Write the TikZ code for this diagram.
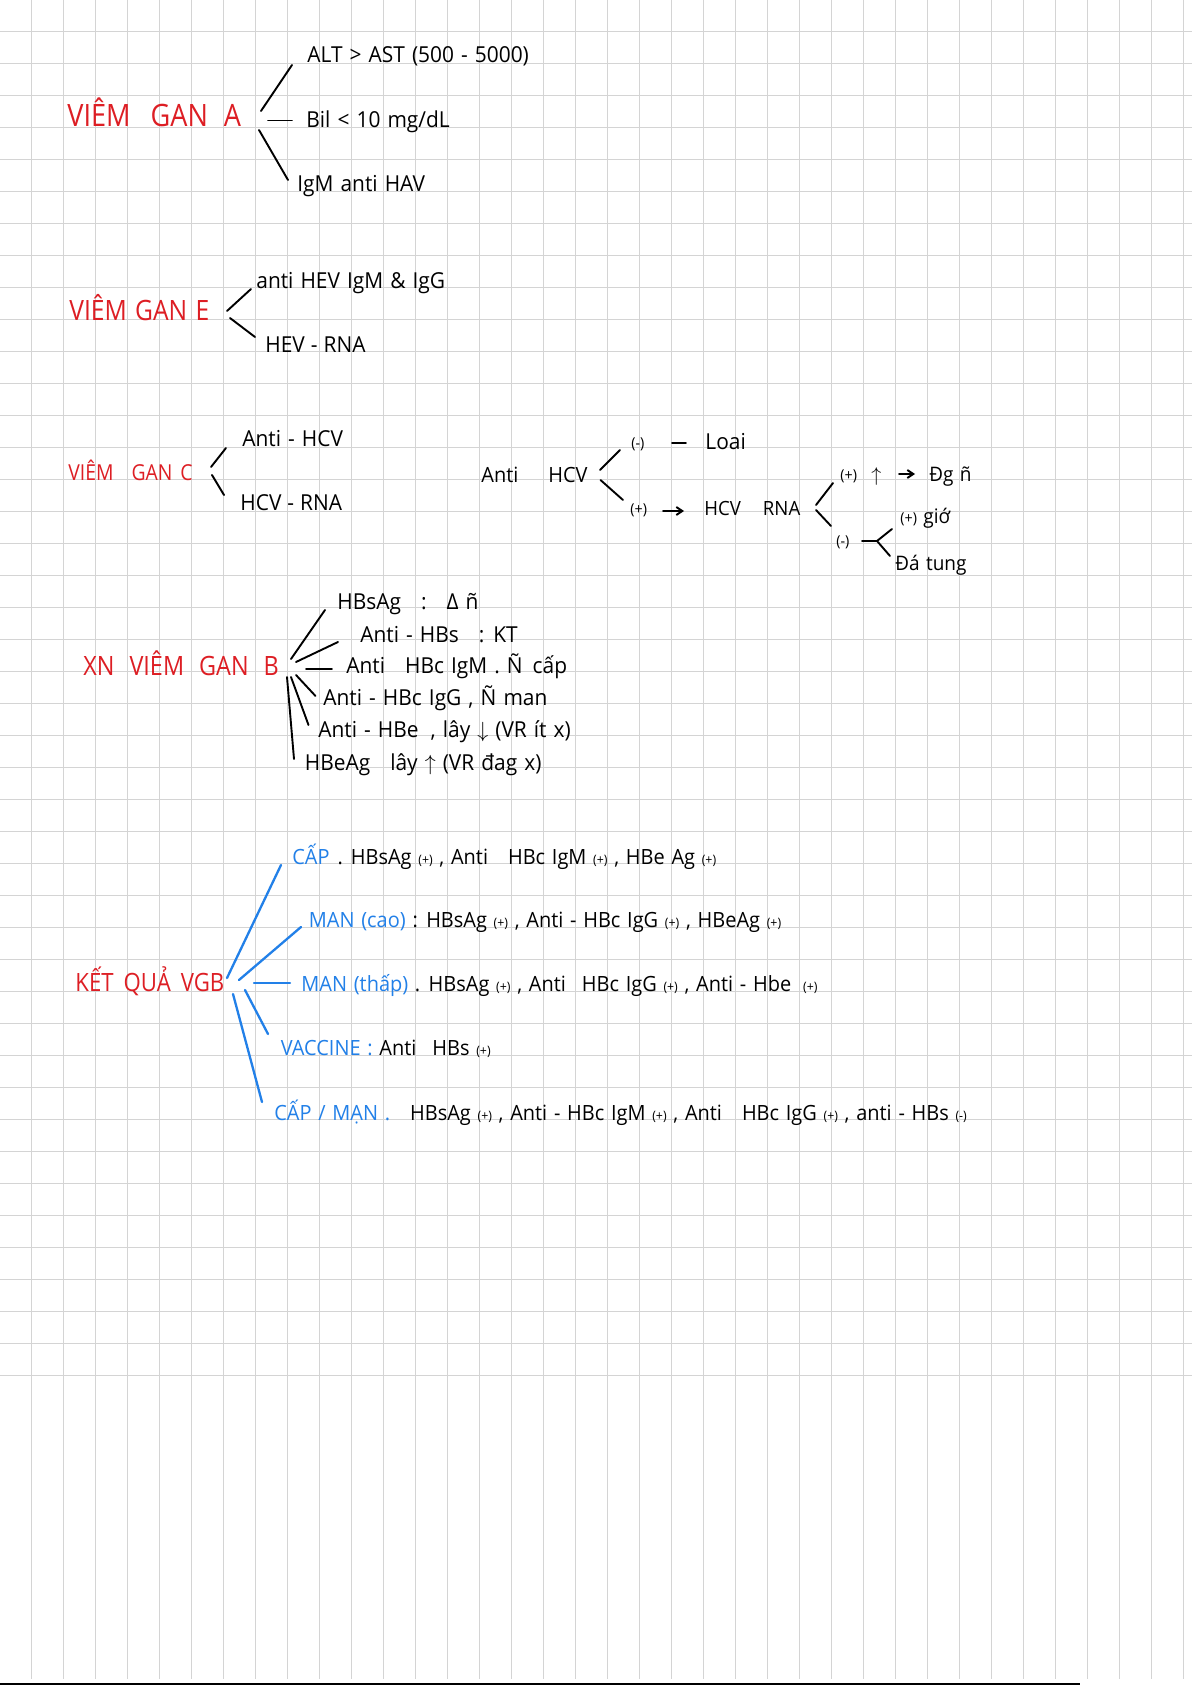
\documentclass[tikz,border=0pt]{standalone}
\usepackage{fontspec}
\setmainfont{Open Sans}[WordSpace=1.3,FakeStretch=0.95]
\newfontfamily\titlefont{Open Sans}[WordSpace=1.3,FakeStretch=0.88]
\usetikzlibrary{arrows.meta}

\definecolor{penred}{RGB}{221,30,36}
\definecolor{penblue}{RGB}{34,128,232}
\definecolor{gridgray}{RGB}{212,212,212}

\newcommand{\sgn}[1]{{\fontsize{6.5}{7}\selectfont(#1)}}
\newcommand{\bigsgn}[1]{{\fontsize{7.5}{8}\selectfont(#1)}}
\newcommand{\kind}[1]{\textcolor{penblue}{#1}}

\tikzset{
	heading/.style={anchor=base west,inner sep=0pt,text=penred,font=\titlefont\fontsize{#1}{#1}\selectfont},
	note/.style={anchor=base west,inner sep=0pt,font=\fontsize{#1}{#1}\selectfont},
	note/.default=11,
	ink/.style={line width=0.95pt,line cap=round},
	blueink/.style={line width=1.15pt,line cap=round,draw=penblue},
	gridline/.style={draw=gridgray,line width=0.75pt},
	pointer/.style={ink,-{Straight Barb[length=3pt,width=4pt]}},
}

\begin{document}
\begin{tikzpicture}[x=0.5pt,y=-0.5pt]
	\fill[white] (0,0) rectangle (1192,1685);
	\useasboundingbox (0,0) rectangle (1192,1685);
	% grid paper
	\foreach \k in {0,...,36}
		\draw[gridline] (31.5+32*\k,0) -- (31.5+32*\k,1679);
	\foreach \j in {0,...,42}
		\draw[gridline] (0,31.5+32*\j) -- (1192,31.5+32*\j);
	\draw[line width=1pt] (0,1683.5) -- (1080,1683.5);
	%
	% viem gan A
	\node[heading=15.4] (vga) at (67,127) {VIÊM\hspace{10pt}GAN\hspace{8pt}A};
	\node[note] (alt) at (307,63) {ALT > AST (500 - 5000)};
	\node[note] (bil) at (306,128) {Bil < 10 mg/dL};
	\node[note] (igm) at (297,192) {IgM anti HAV};
	\coordinate (forkA) at (260,120);
	\draw[ink] ([shift={(1,-9)}]forkA) -- ([shift={(-15,2)}]alt.base west);
	\draw[ink] ([shift={(8,0.5)}]forkA) -- ([shift={(-14,-7.5)}]bil.base west);
	\draw[ink] ([shift={(-1,10)}]forkA) -- ([shift={(-9,-12)}]igm.base west);
	%
	% viem gan E
	\node[heading=14] (vge) at (69,320) {VIÊM GAN E};
	\node[note] (antihev) at (256,288.5) {anti HEV IgM \& IgG};
	\node[note] (hevrna) at (265,352) {HEV\hspace{3pt}-\hspace{3pt}RNA};
	\coordinate (forkE) at (228,314);
	\draw[ink] ([shift={(-1,-3)}]forkE) -- ([shift={(-5,0.5)}]antihev.base west);
	\draw[ink] ([shift={(2,4)}]forkE) -- ([shift={(-10,-15)}]hevrna.base west);
	%
	% viem gan C
	\node[heading=11] (vgc) at (68,480) {VIÊM\hspace{9pt}GAN\hspace{4pt}C};
	\node[note] (antihcv) at (242,446.5) {Anti - HCV};
	\node[note] (hcvrna) at (240,510) {HCV\hspace{3pt}-\hspace{3pt}RNA};
	\coordinate (forkC) at (211,471);
	\draw[ink] ([shift={(0,-4)}]forkC) -- ([shift={(-16,1.5)}]antihcv.base west);
	\draw[ink] ([shift={(1,4)}]forkC) -- ([shift={(-16,-15)}]hcvrna.base west);
	%
	\node[note=10.5] (hcvtest) at (481,482) {Anti\hspace{15pt}HCV};
	\node[note] (neg) at (631,448) {\bigsgn{-}};
	\node[note] (loai) at (705,449) {Loai};
	\node[note] (pos) at (630,514) {\bigsgn{+}};
	\node[note=9.8] (rna) at (704,515) {HCV\hspace{11pt}RNA};
	\coordinate (forkH) at (600,475);
	\draw[ink] ([shift={(0,-5)}]forkH) -- ([shift={(-11,2)}]neg.base west);
	\draw[ink] ([shift={(0.5,5)}]forkH) -- ([shift={(-7,-14)}]pos.base west);
	\draw[ink] ([shift={(-33,-6)}]loai.base west) -- ([shift={(-19,-6)}]loai.base west);
	\draw[pointer] ([shift={(-41,-4)}]rna.base west) -- ([shift={(-20,-4)}]rna.base west);
	%
	\node[note] (rnapos) at (840,480) {\bigsgn{+}};
	\node[note=10] (rise) at (871,481) {$\uparrow$};
	\node[note=10] (dgn) at (929,481) {Đg ñ};
	\node[note] (rnaneg) at (836,546) {\bigsgn{-}};
	\node[note=10] (gia) at (900,523) {\bigsgn{+} giớ};
	\node[note=10] (datung) at (895,570) {Đá tung};
	\coordinate (forkR) at (816,507);
	\coordinate (forkY) at (877,541);
	\draw[ink] ([shift={(0,-2)}]forkR) -- ([shift={(-7,3)}]rnapos.base west);
	\draw[ink] ([shift={(0,3)}]forkR) -- ([shift={(-5,-20)}]rnaneg.base west);
	\draw[pointer] ([shift={(-30,-7)}]dgn.base west) -- ([shift={(-14,-7)}]dgn.base west);
	\draw[ink] ([shift={(26,-5)}]rnaneg.base west) -- (forkY);
	\draw[ink] (forkY) -- ([shift={(-8,6)}]gia.base west);
	\draw[ink] (forkY) -- ([shift={(-5,-14)}]datung.base west);
	%
	% xet nghiem viem gan B
	\node[heading=13.3] (vgb) at (83,675) {XN\hspace{7.5pt}VIÊM\hspace{7.5pt}GAN\hspace{7.5pt}B};
	\node[note] (hbsag) at (337,609) {HBsAg\hspace{10pt}:\hspace{10pt}Δ ñ};
	\node[note] (antihbs) at (360,642) {Anti - HBs\hspace{10pt}: KT};
	\node[note] (hbcigm) at (346,673) {Anti\hspace{10pt}HBc IgM . Ñ\hspace{5pt}cấp};
	\node[note] (hbcigg) at (323,705) {Anti - HBc IgG , Ñ man};
	\node[note] (antihbe) at (318,737) {Anti - HBe\hspace{6pt}, lây $\downarrow$ (VR ít x)};
	\node[note] (hbeag) at (304.5,770) {HBeAg\hspace{10pt}lây $\uparrow$ (VR đag x)};
	\coordinate (forkB) at (290,670);
	\draw[ink] ([shift={(1,-11)}]forkB) -- ([shift={(-12,1)}]hbsag.base west);
	\draw[ink] ([shift={(6,-8)}]forkB) -- ([shift={(-22,0)}]antihbs.base west);
	\draw[ink] ([shift={(16,-1)}]forkB) -- ([shift={(-14,-4)}]hbcigm.base west);
	\draw[ink] ([shift={(6,5)}]forkB) -- ([shift={(-7.5,-9)}]hbcigg.base west);
	\draw[ink] ([shift={(1,7)}]forkB) -- ([shift={(-9.5,-12)}]antihbe.base west);
	\draw[ink] ([shift={(-3,7)}]forkB) -- ([shift={(-10.5,-11)}]hbeag.base west);
	%
	% ket qua VGB
	\node[heading=12.6] (kqvgb) at (75,991) {KẾT\hspace{5pt}QUẢ\hspace{5pt}VGB};
	\node[note=10.5] (acute) at (292,864.5) {\kind{CẤP}\hspace{4pt}.\hspace{4pt}HBsAg \sgn{+} , Anti\hspace{10pt}HBc IgM \sgn{+} , HBe Ag \sgn{+}};
	\node[note=10.5] (chrhigh) at (308.5,927.5) {\kind{MAN (cao)} : HBsAg \sgn{+} , Anti - HBc IgG \sgn{+} , HBeAg \sgn{+}};
	\node[note=10.5] (chrlow) at (301,991) {\kind{MAN (thấp)} . HBsAg \sgn{+} , Anti\hspace{8pt}HBc IgG \sgn{+} , Anti - Hbe\hspace{6pt}\sgn{+}};
	\node[note=10.5] (vaccine) at (280.5,1055.5) {\kind{VACCINE :} Anti\hspace{8pt}HBs \sgn{+}};
	\node[note=10.5] (mixed) at (274,1120) {\kind{CẤP / MẠN .}\hspace{10pt}HBsAg \sgn{+} , Anti - HBc IgM \sgn{+} , Anti\hspace{10pt}HBc IgG \sgn{+} , anti - HBs \sgn{-}};
	\coordinate (forkK) at (235,982);
	\draw[blueink] ([shift={(-8,-4)}]forkK) -- ([shift={(-11,0.5)}]acute.base west);
	\draw[blueink] ([shift={(4,-2)}]forkK) -- ([shift={(-7.5,-0.5)}]chrhigh.base west);
	\draw[blueink] ([shift={(19,1)}]forkK) -- ([shift={(-11,-8)}]chrlow.base west);
	\draw[blueink] ([shift={(10,8)}]forkK) -- ([shift={(-12.5,-21.5)}]vaccine.base west);
	\draw[blueink] ([shift={(-2,12)}]forkK) -- ([shift={(-12,-18)}]mixed.base west);
\end{tikzpicture}
\end{document}
